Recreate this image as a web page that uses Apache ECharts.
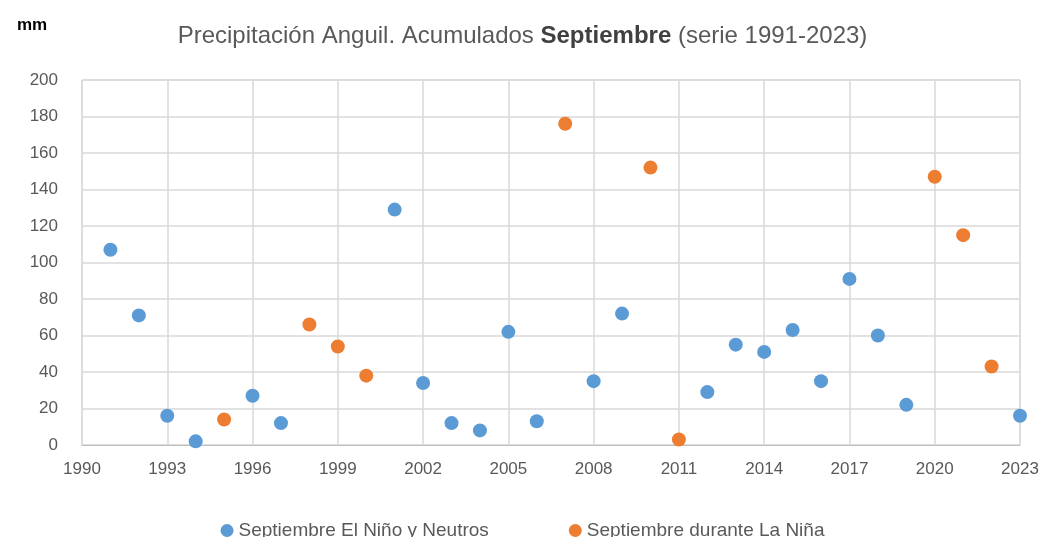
<!DOCTYPE html>
<html>
<head>
<meta charset="utf-8">
<script src="https://cdn.jsdelivr.net/npm/echarts@6/dist/echarts.min.js"></script>
<style>
  html, body { margin: 0; padding: 0; background: #fff; }
  #chart { width: 1045px; height: 537px; }
</style>
</head>
<body>
<div id="chart"></div>
<script>
// años y precipitación acumulada de septiembre (mm)
var ninoYears = [1991, 1992, 1993, 1994, 1996, 1997, 2001, 2002, 2003, 2004, 2005, 2006, 2008, 2009,
  2012, 2013, 2014, 2015, 2016, 2017, 2018, 2019, 2023];
var ninoValues = [107, 71, 16, 2, 27, 12, 129, 34, 12, 8, 62, 13, 35, 72,
  29, 55, 51, 63, 35, 91, 60, 22, 16];
var ninaYears = [1995, 1998, 1999, 2000, 2007, 2010, 2011, 2020, 2021, 2022];
var ninaValues = [14, 66, 54, 38, 176, 152, 3, 147, 115, 43];

var seriesNames = ["Septiembre El Niño y Neutros", "Septiembre durante La Niña"];

function pairs(xs, ys) {
  var out = [];
  for (var i = 0; i < xs.length; i++) {
    out.push([xs[i], ys[i]]);
  }
  return out;
}

var font = "'Liberation Sans Narrow', 'Liberation Sans', 'Noto Sans', sans-serif";
var myChart = echarts.init(document.getElementById("chart"));

var option = {
  animation: false,
  backgroundColor: "#fff",
  textStyle: { fontFamily: font },
  title: [
    {
      text: "{a|Precipitación Anguil. Acumulados }{b|Septiembre}{a| (serie 1991-2023)}",
      left: "center",
      top: 19,
      textStyle: {
        fontWeight: "normal",
        rich: {
          a: { fontSize: 24, color: "#595959", fontWeight: "normal", fontFamily: font },
          b: { fontSize: 24, color: "#404040", fontWeight: "bold", fontFamily: font }
        }
      }
    },
    {
      text: "mm",
      left: 12,
      top: 12,
      textStyle: { fontSize: 17, fontWeight: "bold", color: "#000", fontFamily: font }
    }
  ],
  legend: {
    top: 516,
    left: "center",
    itemWidth: 13,
    itemHeight: 13,
    itemGap: 80,
    textStyle: { fontSize: 19, color: "#595959", fontFamily: font },
    data: [
      { name: seriesNames[0], icon: "circle" },
      { name: seriesNames[1], icon: "circle" }
    ]
  },
  grid: {
    left: 82,
    right: 25,
    top: 80,
    bottom: 92,
    show: true,
    borderColor: "#d9d9d9",
    borderWidth: 1
  },
  xAxis: {
    type: "value",
    min: 1990,
    max: 2023,
    interval: 3,
    axisLine: { show: true, lineStyle: { color: "#bfbfbf" } },
    axisTick: { show: false },
    axisLabel: {
      color: "#595959",
      fontSize: 17,
      margin: 16,
      fontFamily: font,
      formatter: function (v) { return String(v); }
    },
    splitLine: { show: true, lineStyle: { color: "#d9d9d9", width: 1.5 } }
  },
  yAxis: {
    type: "value",
    min: 0,
    max: 200,
    interval: 20,
    axisLine: { show: false },
    axisTick: { show: false },
    axisLabel: { color: "#595959", fontSize: 17, margin: 24, fontFamily: font },
    splitLine: { show: true, lineStyle: { color: "#d9d9d9", width: 1.5 } }
  },
  series: [
    {
      name: seriesNames[0],
      type: "scatter",
      symbolSize: 14,
      itemStyle: { color: "#5b9bd5", opacity: 1 },
      data: pairs(ninoYears, ninoValues)
    },
    {
      name: seriesNames[1],
      type: "scatter",
      symbolSize: 14,
      itemStyle: { color: "#ed7d31", opacity: 1 },
      data: pairs(ninaYears, ninaValues)
    }
  ]
};

myChart.setOption(option);
</script>
</body>
</html>
